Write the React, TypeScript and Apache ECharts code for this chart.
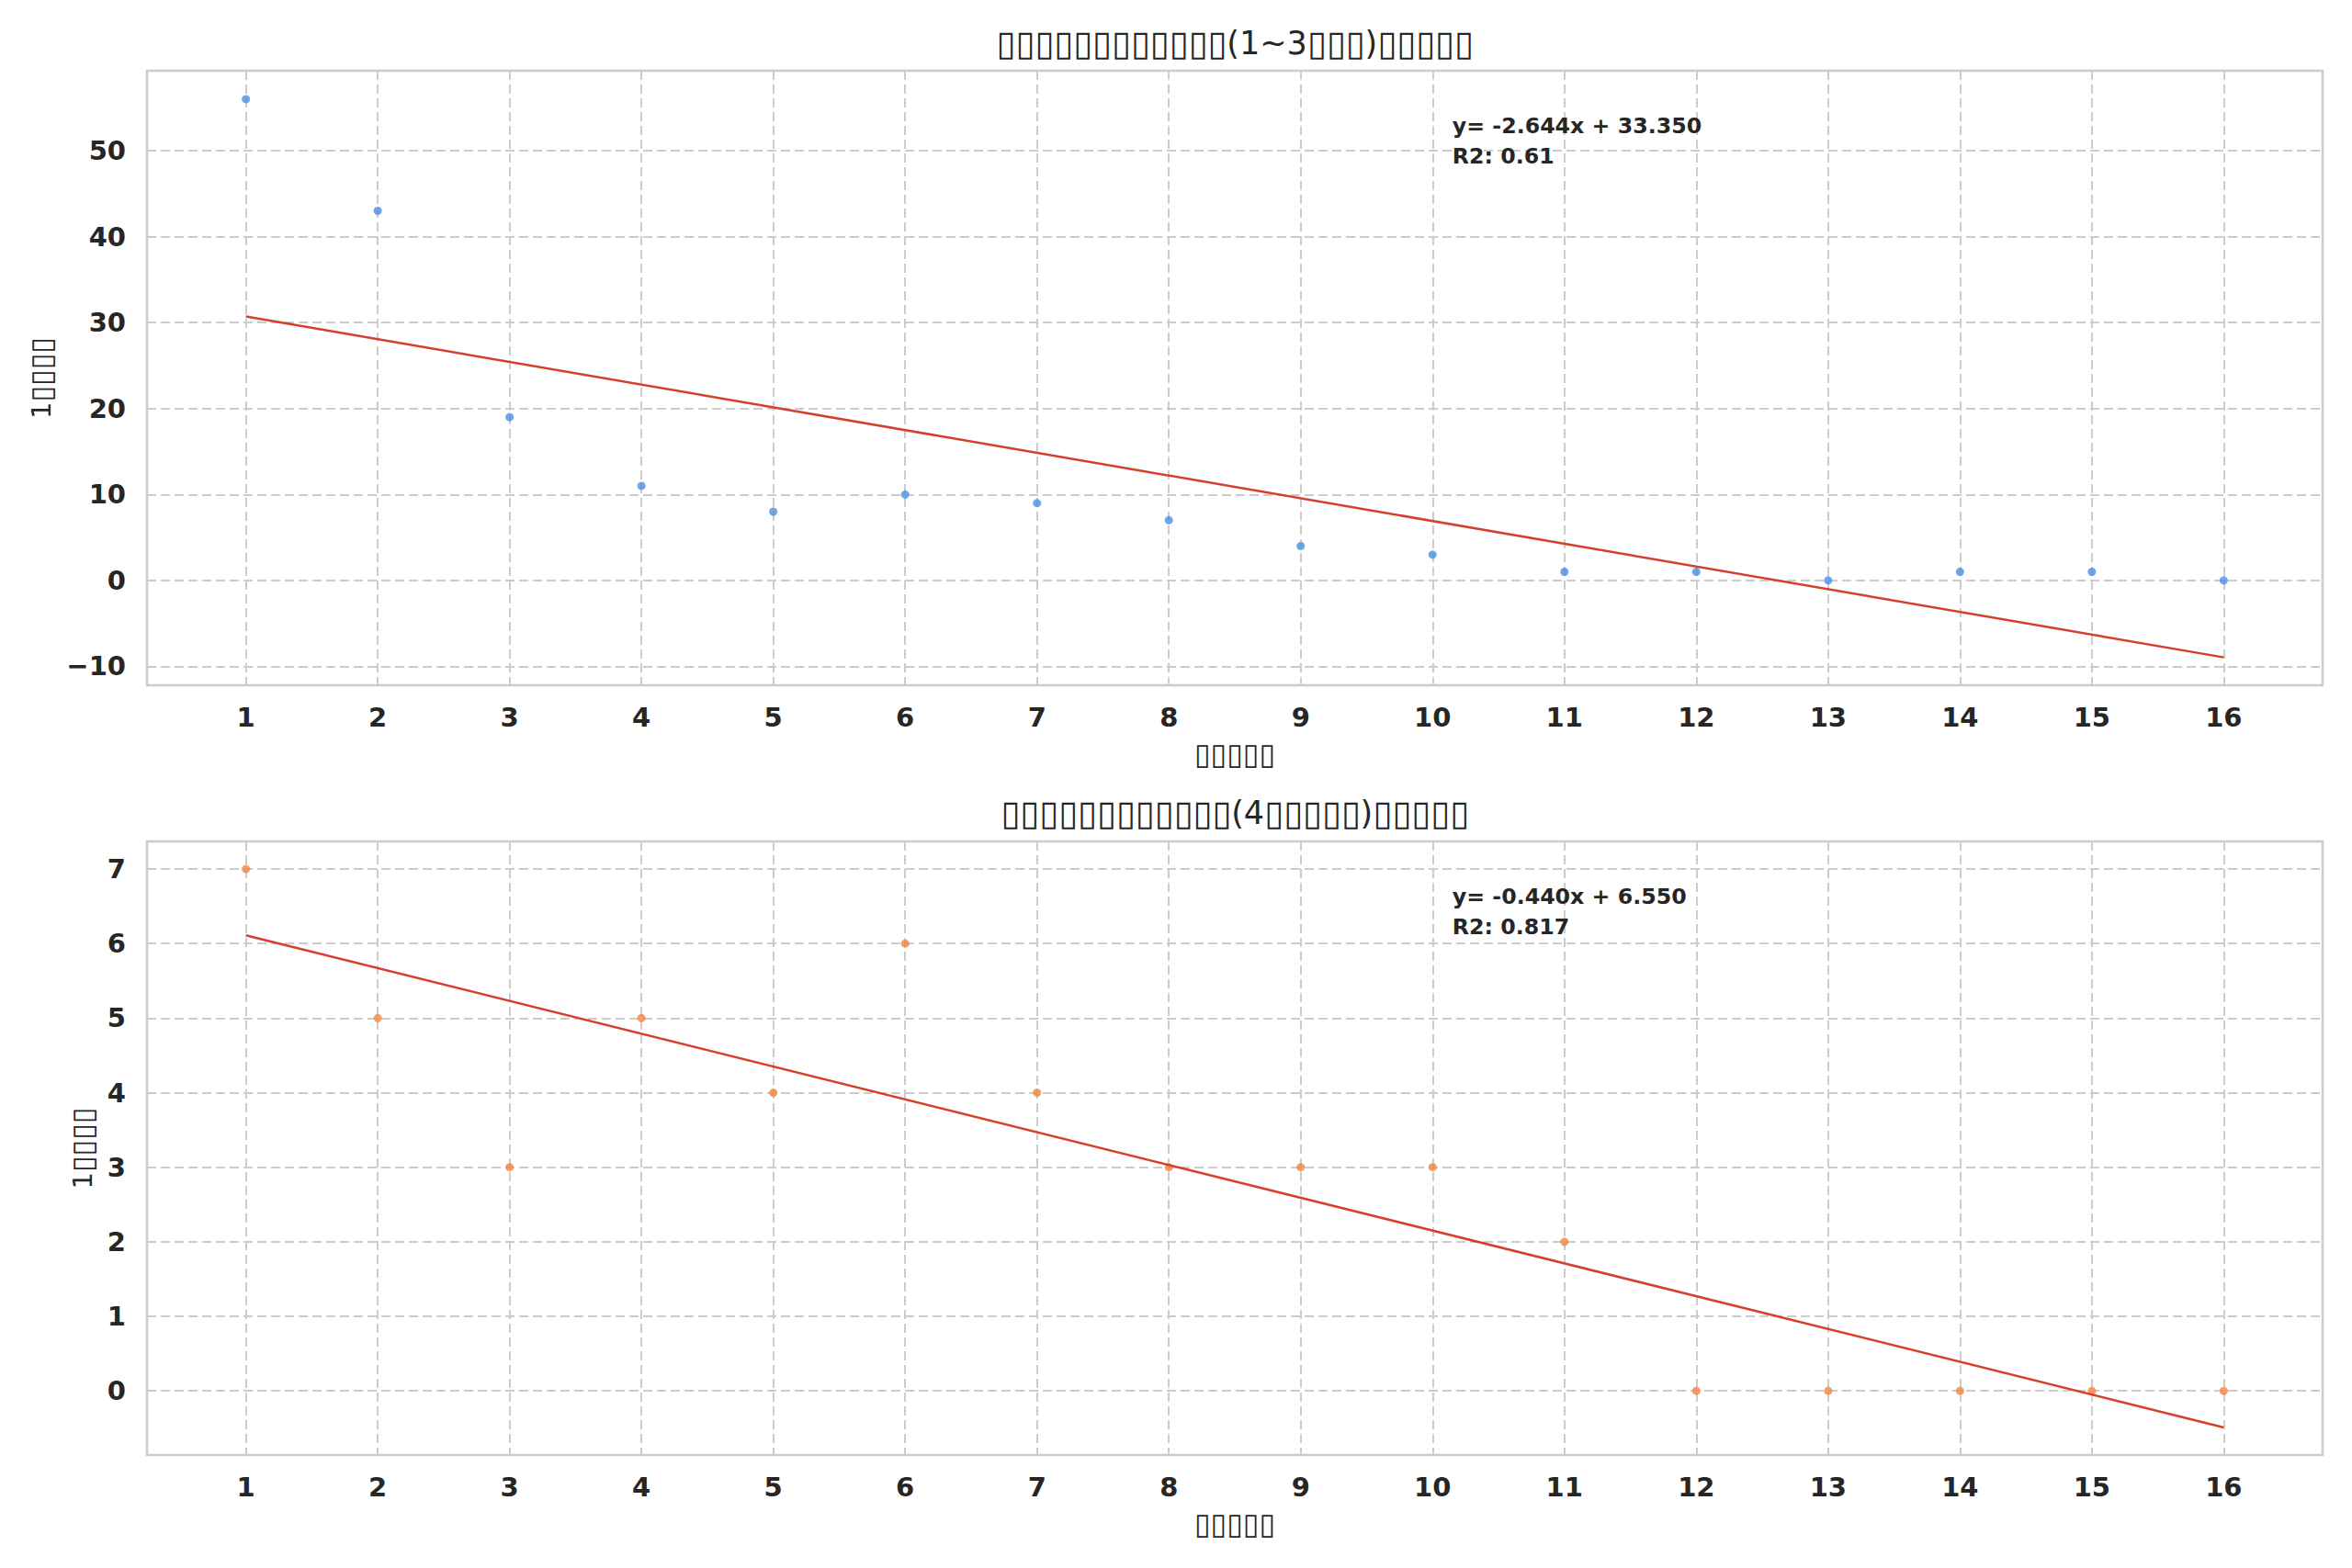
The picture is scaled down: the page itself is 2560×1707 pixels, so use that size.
import React, { useEffect, useRef } from "react";
import * as echarts from "echarts";

// ---- data ----
const days = [1, 2, 3, 4, 5, 6, 7, 8, 9, 10, 11, 12, 13, 14, 15, 16];
const usersLow = [56, 43, 19, 11, 8, 10, 9, 7, 4, 3, 1, 1, 0, 1, 1, 0];
const usersHigh = [7, 5, 3, 5, 4, 6, 4, 3, 3, 3, 2, 0, 0, 0, 0, 0];
const fitLow = { slope: -2.644, intercept: 33.35, r2: "0.61" };
const fitHigh = { slope: -0.44, intercept: 6.55, r2: "0.817" };
const xTicks = [1, 2, 3, 4, 5, 6, 7, 8, 9, 10, 11, 12, 13, 14, 15, 16];
const yTicksLow = [-10, 0, 10, 20, 30, 40, 50];
const yTicksHigh = [0, 1, 2, 3, 4, 5, 6, 7];
const titleLow = "{b|▯▯▯▯▯▯▯▯▯▯▯▯}(1~3{b|▯▯▯}){b|▯▯▯▯▯}";
const titleHigh = "{b|▯▯▯▯▯▯▯▯▯▯▯▯}(4{b|▯▯▯▯▯}){b|▯▯▯▯▯}";
const xName = "{b|▯▯▯▯▯}";
const yName = "1{b|▯▯▯▯}";

// ---- layout ----
const W = 2560;
const H = 1707;
const G1 = { left: 160, top: 77, width: 2368, height: 669 };
const G2 = { left: 160, top: 916, width: 2368, height: 668 };
const TEXT = "#262626";
const GRIDC = "#cccccc";
const FONT = "DejaVu Sans";

const fmt = (v: number) => String(v).replace("-", "\u2212");

const nameStyle = {
  fontFamily: FONT,
  fontSize: 29,
  color: TEXT,
  rich: { b: { fontFamily: FONT, fontSize: 32, color: TEXT } },
};

function xAxis(gridIndex: number) {
  return {
    type: "value",
    gridIndex,
    min: 0.25,
    max: 16.75,
    name: xName,
    nameLocation: "middle",
    nameGap: 59,
    nameTextStyle: nameStyle,
    axisLine: { show: false },
    axisTick: { show: false, customValues: xTicks },
    axisLabel: {
      customValues: xTicks,
      margin: 20,
      fontFamily: FONT,
      fontSize: 29,
      fontWeight: "bold",
      color: TEXT,
      formatter: fmt,
    },
    splitLine: { show: true, lineStyle: { color: GRIDC, width: 2, type: [10, 5] } },
  };
}

function yAxis(gridIndex: number, min: number, max: number, ticks: number[], gap: number) {
  return {
    type: "value",
    gridIndex,
    min,
    max,
    name: yName,
    nameLocation: "middle",
    nameRotate: 90,
    nameGap: gap,
    nameTextStyle: nameStyle,
    axisLine: { show: false },
    axisTick: { show: false, customValues: ticks },
    axisLabel: {
      customValues: ticks,
      margin: 23,
      fontFamily: FONT,
      fontSize: 29,
      fontWeight: "bold",
      color: TEXT,
      formatter: fmt,
    },
    splitLine: { show: true, lineStyle: { color: GRIDC, width: 2, type: [10, 5] } },
  };
}

function fitData(f: { slope: number; intercept: number }) {
  const x0 = days[0];
  const x1 = days[days.length - 1];
  return [
    [x0, f.slope * x0 + f.intercept],
    [x1, f.slope * x1 + f.intercept],
  ];
}

function eqText(f: { slope: number; intercept: number; r2: string }) {
  return `y= ${f.slope.toFixed(3)}x + ${f.intercept.toFixed(3)}\nR2: ${f.r2}`;
}

const titleStyle = (text: string) => ({
  text,
  fontFamily: FONT,
  fontSize: 35,
  fill: TEXT,
  align: "center",
  verticalAlign: "middle",
  rich: { b: { fontFamily: FONT, fontSize: 38, fill: TEXT } },
});

export default function App() {
  const ref = useRef<HTMLDivElement>(null);
  useEffect(() => {
    document.body.style.margin = "0";
    if (!ref.current) return;
    const chart = echarts.init(ref.current, undefined, { renderer: "svg" });
    const gridCommon = { show: true, borderColor: GRIDC, borderWidth: 2.5, backgroundColor: "transparent", containLabel: false };
    const option: any = {
      animation: false,
      backgroundColor: "#ffffff",
      grid: [
        { ...gridCommon, ...G1 },
        { ...gridCommon, ...G2 },
      ],
      xAxis: [xAxis(0), xAxis(1)],
      yAxis: [yAxis(0, -12.2, 59.3, yTicksLow, 97), yAxis(1, -0.86, 7.37, yTicksHigh, 52)],
      series: [
        {
          type: "scatter",
          xAxisIndex: 0,
          yAxisIndex: 0,
          symbolSize: 9,
          itemStyle: { color: "#4a90e2" },
          data: days.map((d, i) => [d, usersLow[i]]),
          z: 3,
        },
        {
          type: "line",
          xAxisIndex: 0,
          yAxisIndex: 0,
          showSymbol: false,
          symbol: "none",
          lineStyle: { color: "#d4402c", width: 2.5 },
          data: fitData(fitLow),
          z: 4,
        },
        {
          type: "scatter",
          xAxisIndex: 1,
          yAxisIndex: 1,
          symbolSize: 9,
          itemStyle: { color: "#f08444" },
          data: days.map((d, i) => [d, usersHigh[i]]),
          z: 3,
        },
        {
          type: "line",
          xAxisIndex: 1,
          yAxisIndex: 1,
          showSymbol: false,
          symbol: "none",
          lineStyle: { color: "#d4402c", width: 2.5 },
          data: fitData(fitHigh),
          z: 4,
        },
      ],
      graphic: [
        {
          type: "text",
          x: G1.left + G1.width / 2,
          y: G1.top - 30,
          style: titleStyle(titleLow),
        },
        {
          type: "text",
          x: G2.left + G2.width / 2,
          y: G2.top - 31,
          style: titleStyle(titleHigh),
        },
        {
          type: "text",
          x: G1.left + 0.6 * G1.width,
          y: G1.top + 0.05 * G1.height + 10,
          style: { text: eqText(fitLow), fontFamily: FONT, fontSize: 23.7, fontWeight: "bold", lineHeight: 33, fill: TEXT, align: "left", verticalAlign: "top" },
          z: 10,
        },
        {
          type: "text",
          x: G2.left + 0.6 * G2.width,
          y: G2.top + 0.05 * G2.height + 10,
          style: { text: eqText(fitHigh), fontFamily: FONT, fontSize: 23.7, fontWeight: "bold", lineHeight: 33, fill: TEXT, align: "left", verticalAlign: "top" },
          z: 10,
        },
      ],
    };
    chart.setOption(option);
    return () => chart.dispose();
  }, []);
  return <div ref={ref} style={{ position: "absolute", left: 0, top: 0, width: W, height: H }} />;
}
